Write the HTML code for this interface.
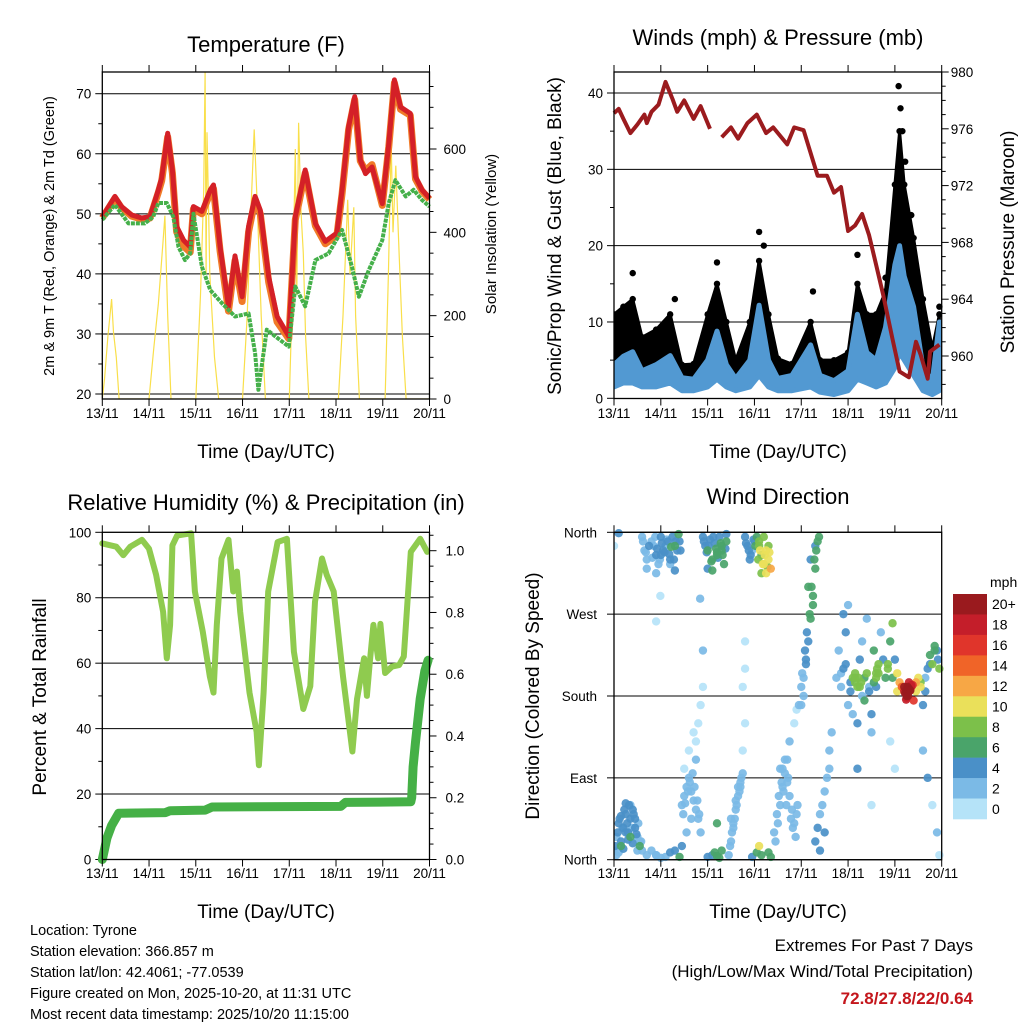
<!DOCTYPE html>
<html><head><meta charset="utf-8"><style>
html,body{margin:0;padding:0;background:#fff;}
svg{display:block;font-family:"Liberation Sans",Arial,sans-serif;}
</style></head><body>
<svg id="chart" width="1024" height="1024" viewBox="0 0 1024 1024" xmlns="http://www.w3.org/2000/svg"></svg>
<script>
// ---------- Data ----------
const DAY_LABELS=["13/11","14/11","15/11","16/11","17/11","18/11","19/11","20/11"];
const T_TICKS=[20,30,40,50,60,70];
const SOL_TICKS=[0,200,400,600];
const W_TICKS=[0,10,20,30,40];
const P_TICKS=[960,964,968,972,976,980];
const RH_TICKS=[0,20,40,60,80,100];
const PR_TICKS=["0.0","0.2","0.4","0.6","0.8","1.0"];
const DIR_TICKS=["North","East","South","West","North"];
const CB_LABELS=["20+","18","16","14","12","10","8","6","4","2","0"];
const CB_COLORS=["#9a1a1e","#c41e2a","#e0352b","#f06428","#f7a745","#eae05a","#7cc04a","#4aa46a","#4a90c8","#7bbae6","#b5e3f8"];

const T_TIME=[0,0.27,0.41,0.63,0.84,1.02,1.2,1.27,1.4,1.5,1.59,1.74,1.88,1.95,2.13,2.31,2.38,2.52,2.7,2.84,2.99,3.13,3.27,3.38,3.56,3.74,3.99,4.13,4.34,4.56,4.77,5.02,5.13,5.27,5.4,5.52,5.63,5.77,5.99,6.13,6.25,6.38,6.59,6.7,6.84,7.0];
const T_RED=[49.5,52.9,51.2,49.8,49.3,49.5,54,56,63.4,57.3,47.9,45.6,44.5,51.2,50.4,54,54.8,44.5,34.6,43,36.2,47.9,52.9,50.6,39.5,32.9,29.6,49.5,57.3,48.4,45.4,46.8,54,64.5,69.5,59,56.7,57.8,51.7,61.7,72.3,67.8,66.7,56.2,54,52.6];
const T_ORANGE=[49.3,52.6,51,49.6,49.1,49.3,53.6,55.5,62.8,56.8,47,44.6,43.6,50.8,50,53.5,54.2,43.8,33.8,42.2,35.4,47,52.4,50,38.6,32,29.2,49,56.8,48,45,46.4,53.4,64,69,58.8,57.2,58.2,51.4,61.2,71.8,67.4,66.4,55.8,53.8,52.4];
const TD_TIME=[0,0.27,0.56,0.91,1.09,1.2,1.38,1.52,1.63,1.77,1.88,1.95,2.13,2.31,2.56,2.84,3.13,3.27,3.34,3.52,3.7,3.99,4.13,4.34,4.56,4.84,5.13,5.34,5.49,5.7,5.99,6.13,6.27,6.49,6.66,6.84,7.0];
const TD_VAL=[49,51.5,48.4,48.4,49.5,51.8,51.8,49.5,44.5,42.3,43.4,50,41.2,37.3,35.1,32.9,33.4,26.8,20.7,30.7,29.6,27.9,37.9,34.6,42.3,43.4,47.3,41.2,36.2,40.6,45.6,51.8,55.6,52.9,54,52.3,51.2];
const SOL_TIME=[0,0.05,0.12,0.2,0.24,0.3,0.36,1.0,1.1,1.2,1.3,1.34,1.4,1.47,2.0,2.1,2.17,2.2,2.22,2.24,2.27,2.3,2.4,2.49,3.0,3.1,3.18,3.25,3.32,3.4,3.49,4.0,4.08,4.13,4.16,4.2,4.25,4.3,4.35,4.42,5.05,5.15,5.25,5.3,5.38,5.42,5.5,6.05,6.12,6.18,6.22,6.28,6.35,6.42,6.5,7.0];
const SOL_VAL=[0,50,150,240,160,100,0,0,120,230,380,440,200,0,0,250,500,787,300,640,480,300,100,0,0,200,450,647,450,200,0,0,300,600,250,663,450,350,150,0,0,200,478,300,460,200,0,0,300,615,400,560,350,150,0,0];

const P_TIME=[0,0.1,0.2,0.35,0.5,0.65,0.7,0.8,0.95,1.1,1.25,1.35,1.5,1.7,1.85,2.05];
const P_VAL=[977.1,977.4,976.7,975.7,976.3,977,976.4,977.2,977.7,979.3,978.1,977.2,978,976.7,977.6,976];
const P2_TIME=[2.3,2.5,2.65,2.85,3.05,3.25,3.4,3.7,3.85,4.05,4.35,4.55,4.7,4.85,5.0,5.15,5.3,5.45,5.6,5.75,5.95,6.1,6.3,6.45,6.55,6.7,6.75,6.95];
const P2_VAL=[975.4,976.1,975.3,976.4,977,975.7,976.1,974.9,976.1,975.9,972.7,972.7,971.5,971.9,968.8,969.2,970,968.5,966.4,964.3,961.2,958.9,958.5,961,960.1,958.4,960.3,960.8];
const W_TIME=[0,0.2,0.4,0.6,0.9,1.2,1.45,1.7,2.0,2.2,2.4,2.6,2.9,3.1,3.3,3.5,3.8,4.2,4.4,4.7,5.0,5.2,5.4,5.6,5.8,6.0,6.1,6.2,6.4,6.6,6.8,6.95];
const W_HIGH=[4.4,5.5,6.1,3.6,4.4,5.6,2.7,2.5,5,8.8,4.4,2.6,5,12.2,5,2.6,3,7,3,2.3,3.6,11,6,5,9.3,17.5,20,16,12,4,2.3,10];
const W_LOW=[1.5,2,2,1.5,1.5,2,1,1,1.5,2.5,1.5,1,1.5,3,1.5,1,1,1.5,0.8,0.5,1,2.5,2,1.5,2,4,6,5,3,1,0.5,1];
const GUST=[11,12,13,8,9,11,4.4,4.5,11,15,10,5,10,18,11,5.2,4.5,10,5,5,6,15,11,11,14,28,35,28,21,13,6.5,11];
const GUST_PEAK_T=[0.4,1.3,2.2,3.1,3.2,4.25,5.2,5.8,6.08,6.12,6.16,6.22,6.35,6.95];
const GUST_PEAK_V=[16.4,13,17.8,21.8,20,14,18.8,15.8,40.9,38,35,31,24,12];

const RH_TIME=[0,0.3,0.45,0.6,0.85,1.0,1.15,1.3,1.38,1.45,1.5,1.6,1.9,1.98,2.15,2.3,2.38,2.45,2.55,2.7,2.8,2.88,2.95,3.15,3.3,3.35,3.45,3.55,3.75,3.95,4.1,4.3,4.45,4.55,4.7,4.8,4.95,5.15,5.35,5.45,5.6,5.66,5.72,5.8,5.9,5.95,6.05,6.2,6.35,6.45,6.6,6.8,6.95];
const RH_VAL=[96.6,95.6,93,95.6,97.7,95,87,75.7,61.5,71.7,96,99,99.7,81.9,69.6,56,51,71.7,92,97.7,81.9,88,75.7,51,39,28.8,51,81.9,97,98,63.5,46,53,78.8,92,87,81.9,56,33,49,61.5,50,60,71.7,61.5,72,57,59,59.4,62,94,98,94];
const PR_TIME=[0,0.1,0.2,0.35,1.35,1.45,2.2,2.35,5.1,5.2,6.6,6.62,6.65,6.7,6.8,6.9,6.97];
const PR_VAL=[0,0.07,0.11,0.15,0.152,0.158,0.16,0.17,0.172,0.185,0.187,0.2,0.3,0.38,0.52,0.61,0.645];

const DIR_T=[0,0.05,0.1,0.15,0.2,0.25,0.3,0.35,0.4,0.45,0.5,0.55,0.6,0.7,0.8,0.9,0.05,0.15,0.25,0.35,0.45,0.55,0,0.1,
0.6,0.65,0.7,0.8,0.85,0.9,0.95,1.0,1.05,1.1,1.15,1.2,1.25,1.3,1.35,1.4,0.7,0.9,1.0,1.2,1.3,0.99,0.9,
0.9,1.0,1.1,1.2,1.3,1.4,1.45,
1.45,1.5,1.55,1.6,1.65,1.7,1.75,1.8,1.85,1.5,1.6,1.7,1.8,1.75,1.85,1.9,1.9,1.84,
1.9,1.95,2.0,2.05,2.1,2.15,2.2,2.25,2.3,2.35,2.4,2.0,2.1,2.2,2.3,2.4,
2.0,2.1,2.15,2.2,2.25,2.3,2.2,
2.45,2.5,2.55,2.6,2.65,2.7,2.75,2.5,2.6,2.7,2.75,2.8,2.75,2.8,2.8,
2.8,2.85,2.9,2.95,3.0,3.05,3.1,3.15,3.2,3.25,3.3,3.35,3.1,3.2,3.3,3.25,3.15,
2.95,3.05,3.1,3.15,3.3,3.35,
3.45,3.5,3.55,3.6,3.65,3.7,3.75,3.8,3.85,3.9,3.55,3.65,3.75,3.85,3.95,3.9,
4.0,4.05,4.1,4.15,4.2,4.25,4.3,4.35,4.15,4.2,4.25,4.3,4.1,4.05,4.0,
4.3,4.35,4.4,4.45,4.5,4.55,4.6,4.4,4.5,4.6,4.65,
4.75,4.8,4.85,4.9,4.95,5.0,5.05,5.1,5.15,5.2,5.25,5.3,5.35,5.4,5.45,5.5,5.55,5.6,5.65,5.7,4.9,5.0,5.1,5.2,5.3,5.4,5.5,5.6,
5.8,5.85,5.9,5.95,6.0,6.05,6.1,6.15,6.2,6.25,6.3,6.35,6.4,6.45,6.5,6.55,6.6,6.65,6.7,6.75,6.8,6.85,6.9,6.95,6.22,6.27,6.32,6.25,6.3,
5.9,6.0,6.6,6.7,6.8,6.9,6.95,5.5,5.2,
0.02,0.08,0.12,0.18,0.22,0.28,0.32,0.38,0.42,0.48,0.52,0.58,0.1,0.2,0.3,0.4,0.5,0.15,0.25,0.35,
0.62,0.68,0.75,0.82,0.88,0.92,0.98,1.02,1.08,1.12,1.18,1.22,1.28,1.32,1.38,1.42,
1.48,1.52,1.58,1.62,1.68,1.72,1.78,1.82,1.55,1.65,1.75,
1.92,1.98,2.02,2.08,2.12,2.18,2.22,2.28,2.32,2.38,
2.48,2.52,2.58,2.62,2.68,2.72,2.55,2.65,
2.82,2.88,2.92,2.98,3.02,3.08,3.12,3.18,3.22,3.28,3.32,
3.42,3.48,3.52,3.58,3.62,3.68,3.72,3.78,3.82,3.88,3.92,3.6,3.7,
4.02,4.08,4.12,4.18,4.22,4.28,4.32,4.38,
4.85,4.95,5.05,5.15,5.25,5.35,5.45,5.55,5.65,5.75,5.85,5.95,6.05,6.15,6.25,6.35,6.45,6.55,6.65,6.75,6.85,6.92,5.15,5.22,5.28,5.6,5.62,6.28,6.33,6.38,6.2,6.24];
const DIR_V=[10,25,40,20,35,50,30,45,55,35,25,15,10,5,10,5,5,15,30,60,45,20,345,359,
355,340,330,350,345,335,325,355,340,345,350,330,355,345,340,350,320,315,335,325,318,290,262,
5,2,3,8,10,3,15,
60,70,80,90,75,65,55,45,30,100,120,140,150,130,170,190,230,287,
355,345,340,352,330,348,335,355,340,325,350,320,318,338,345,358,
3,5,8,4,2,10,40,
5,20,35,55,70,85,95,45,65,80,120,150,190,210,240,
355,345,330,340,350,355,345,335,325,340,330,320,350,355,345,315,315,
3,8,15,5,8,3,
20,40,60,80,95,85,70,55,40,50,100,110,130,150,170,165,
190,200,215,240,265,290,320,350,300,330,280,345,220,180,170,
20,35,50,60,75,90,100,10,30,120,140,
200,230,190,210,250,170,185,200,195,190,220,180,175,205,190,160,230,200,215,250,270,280,160,150,240,265,140,190,
200,215,240,260,220,205,195,190,185,180,188,192,175,185,200,195,170,200,210,225,215,235,230,210,183,190,186,178,195,
130,100,120,90,60,30,5,60,100,
15,30,45,35,55,40,60,35,50,28,40,20,8,12,22,18,10,48,62,25,
350,338,345,332,355,342,330,348,338,352,336,344,330,350,358,340,
50,62,75,85,95,80,65,50,30,45,110,
350,338,345,328,355,342,332,348,335,342,
15,30,45,60,75,90,40,80,
348,340,335,352,345,330,340,325,335,322,338,
30,50,70,85,75,60,90,45,35,25,60,100,110,
205,230,250,270,300,330,340,355,
205,215,195,200,190,200,185,195,205,220,210,200,185,190,185,190,195,190,185,215,230,220,205,200,195,205,210,180,186,192,190,176];
const DIR_S=[3,3,5,5,4,5,5,4,5,4,3,6,3,2,2,2,2,6,5,3,5,3,1,4,
2,2,2,3,2,4,2,4,4,3,4,5,4,6,5,4,2,2,4,2,5,1,1,
2,2,2,4,4,6,5,
2,2,2,2,2,2,2,2,2,1,1,1,1,1,1,1,2,2,
4,4,6,4,7,4,6,4,7,6,7,4,6,7,6,4,
4,4,6,6,6,6,7,
2,2,2,2,2,2,2,2,2,2,1,1,1,1,1,
4,4,4,3,4,6,8,7,10,10,10,12,8,9,8,10,9,
4,7,10,7,7,6,
2,2,2,2,2,2,2,2,2,2,2,2,2,1,2,1,
3,2,4,4,6,7,6,6,6,4,7,5,4,2,2,
4,4,2,2,2,2,2,4,4,2,2,
2,2,2,4,4,2,4,8,8,8,4,2,6,8,2,4,6,8,8,2,4,2,2,4,2,2,2,4,
6,8,6,8,4,10,12,14,18,20,20,18,16,10,10,8,4,2,4,6,8,6,4,8,20,20,20,16,18,
1,1,2,4,1,2,1,1,4,
4,4,4,2,4,4,4,2,4,4,2,2,2,4,4,4,2,4,4,6,
2,2,4,2,2,4,2,4,4,2,4,6,4,4,6,4,
2,2,2,2,2,2,2,2,2,2,2,
4,4,4,6,4,6,4,6,6,4,
2,2,2,2,2,2,2,2,
4,4,4,4,6,8,10,10,10,8,10,
2,2,2,2,2,2,2,2,2,2,2,2,2,
2,4,4,6,6,6,6,6,
2,4,4,8,8,6,4,6,8,4,8,6,10,14,20,18,12,10,4,4,6,4,8,8,8,8,8,20,20,16,20,18];

// ---------- Helpers ----------
const NS="http://www.w3.org/2000/svg";
const svg=document.getElementById('chart');
function mk(tag,attrs,parent){const e=document.createElementNS(NS,tag);for(const k in attrs)e.setAttribute(k,attrs[k]);(parent||svg).appendChild(e);return e;}
function txt(s,x,y,size,anchor,parent,extra){const e=mk('text',Object.assign({x:x,y:y,'font-size':size,'text-anchor':anchor||'middle',fill:'#000'},extra||{}),parent);e.textContent=s;return e;}
function lin(d0,v0,d1,v1){return v=>v0+(v-d0)*(v1-v0)/(d1-d0);}
function grp(name){const g=mk('g',{});return g;}
function frame(g,x0,y0,x1,y1){
  const r=mk('rect',{x:x0,y:y0,width:x1-x0,height:y1-y0,fill:'none',stroke:'#000','stroke-width':1.3},g);
  
}
function xAxis(g,X,y0,y1,labelY){
  for(let i=0;i<=7;i++){
    const x=X(i);
    mk('line',{x1:x,y1:y1,x2:x,y2:y1+7,stroke:'#000','stroke-width':1},g);
    mk('line',{x1:x,y1:y0,x2:x,y2:y0-7,stroke:'#000','stroke-width':1},g);
    const t=txt(DAY_LABELS[i],x,labelY,13.5,'middle',g);
    
  }
}
function hgrid(g,x0,x1,y){mk('line',{x1:x0,y1:y,x2:x1,y2:y,stroke:'#000','stroke-width':1},g);}
function pathD(xs,ys){return xs.map((x,i)=>(i?'L':'M')+x.toFixed(1)+','+ys[i].toFixed(1)).join('');}

// ---------- Panel 1: Temperature ----------
(function(){
  const g=grp('temperature-panel');
  const X=lin(0,102.3,7,429.5), Y=lin(20,394,70,93.7), YS=lin(0,399,600,149);
  const px0=102.3,px1=429.5,py0=72,py1=399;
  T_TICKS.forEach(v=>{hgrid(g,px0,px1,Y(v));mk('line',{x1:px0,y1:Y(v),x2:px0-7,y2:Y(v),stroke:'#000'},g);
    const t=txt(String(v),px0-11,Y(v)+5,13.5,'end',g);
    if(v<70)mk('line',{x1:px0,y1:Y(v+5),x2:px0-4,y2:Y(v+5),stroke:'#000'},g);});
  SOL_TICKS.forEach(v=>{mk('line',{x1:px1,y1:YS(v),x2:px1+7,y2:YS(v),stroke:'#000'},g);
    const t=txt(String(v),px1+14,YS(v)+5,13.5,'start',g);});
  for(let v=50;v<800;v+=50){if(v%200&&YS(v)>py0)mk('line',{x1:px1,y1:YS(v),x2:px1+4,y2:YS(v),stroke:'#000'},g);}
  const clip=mk('clipPath',{id:'c1'},g);mk('rect',{x:px0,y:py0,width:px1-px0,height:py1-py0},clip);
  const s=mk('path',{d:pathD(SOL_TIME.map(X),SOL_VAL.map(YS)),fill:'none',stroke:'#f9df4a','stroke-width':1.2,'clip-path':'url(#c1)'},g);
  
  const o=mk('path',{d:pathD(T_TIME.map(X),T_ORANGE.map(Y)),fill:'none',stroke:'#f07a28','stroke-width':7,'stroke-linejoin':'round'},g);
  
  const r=mk('path',{d:pathD(T_TIME.map(X),T_RED.map(Y)),fill:'none',stroke:'#d42027','stroke-width':5,'stroke-linejoin':'round'},g);
  
  const d=mk('path',{d:pathD(TD_TIME.map(X),TD_VAL.map(Y)),fill:'none',stroke:'#45b04a','stroke-width':4,'stroke-dasharray':'4 1','stroke-linejoin':'round'},g);
  
  frame(g,px0,py0,px1,py1);xAxis(g,X,py0,py1,418);
  const t1=txt('Temperature (F)',266,52,22,'middle',g);
  const t2=txt('Time (Day/UTC)',266,458,19,'middle',g);
  const t3=txt('2m & 9m T (Red, Orange) & 2m Td (Green)',0,0,14.5,'middle',g,{transform:'translate(54,236) rotate(-90)'});
  const t4=txt('Solar Insolation (Yellow)',0,0,15,'middle',g,{transform:'translate(496,234) rotate(-90)'});
})();

// ---------- Panel 2: Winds & Pressure ----------
(function(){
  const g=grp('winds-pressure-panel');
  const px0=614,px1=941.7,py0=72,py1=398.5;
  const X=lin(0,px0,7,px1), Y=lin(0,398.3,40,93), YP=lin(960,356,980,72);
  W_TICKS.forEach(v=>{if(v>0)hgrid(g,px0,px1,Y(v));mk('line',{x1:px0,y1:Y(v),x2:px0-7,y2:Y(v),stroke:'#000'},g);
    const t=txt(String(v),px0-11,Y(v)+5,13.5,'end',g);
    if(v<40)mk('line',{x1:px0,y1:Y(v+5),x2:px0-4,y2:Y(v+5),stroke:'#000'},g);});
  P_TICKS.forEach(v=>{mk('line',{x1:px1,y1:YP(v),x2:px1+7,y2:YP(v),stroke:'#000'},g);
    const t=txt(String(v),px1+9,YP(v)+5,13.5,'start',g);});
  for(let v=958;v<980;v+=1){if((v-960)%4)mk('line',{x1:px1,y1:YP(v),x2:px1+4,y2:YP(v),stroke:'#000'},g);}
  const clip=mk('clipPath',{id:'c2'},g);mk('rect',{x:px0,y:py0,width:px1-px0,height:py1-py0},clip);
  const gx=W_TIME.map(X);
  const band=pathD(gx,GUST.map(Y))+pathD(gx.slice().reverse(),W_HIGH.slice().reverse().map(Y)).replace('M','L')+'Z';
  const gb=mk('path',{d:band,fill:'#000',stroke:'#000','stroke-width':3,'stroke-linejoin':'round','clip-path':'url(#c2)'},g);
  
  GUST.forEach((v,i)=>{const c=mk('circle',{cx:X(W_TIME[i]),cy:Y(v),r:3.2,fill:'#000','clip-path':'url(#c2)'},g);
    });
  GUST_PEAK_V.forEach((v,i)=>{const c=mk('circle',{cx:X(GUST_PEAK_T[i]),cy:Y(v),r:3.2,fill:'#000'},g);
    });
  const wb=pathD(gx,W_HIGH.map(Y))+pathD(gx.slice().reverse(),W_LOW.slice().reverse().map(Y)).replace('M','L')+'Z';
  const w=mk('path',{d:wb,fill:'#5299d2',stroke:'#5299d2','stroke-width':5,'stroke-linejoin':'round','clip-path':'url(#c2)'},g);
  
  const p1=mk('path',{d:pathD(P_TIME.map(X),P_VAL.map(YP)),fill:'none',stroke:'#9b1b1e','stroke-width':4,'stroke-linejoin':'round'},g);
  
  const p2=mk('path',{d:pathD(P2_TIME.map(X),P2_VAL.map(YP)),fill:'none',stroke:'#9b1b1e','stroke-width':4,'stroke-linejoin':'round'},g);
  
  frame(g,px0,py0,px1,py1);xAxis(g,X,py0,py1,418);
  const t1=txt('Winds (mph) & Pressure (mb)',778,45,22,'middle',g);
  const t2=txt('Time (Day/UTC)',778,458,19,'middle',g);
  const t3=txt('Sonic/Prop Wind & Gust (Blue, Black)',0,0,19,'middle',g,{transform:'translate(561,236) rotate(-90)'});
  const t4=txt('Station Pressure (Maroon)',0,0,19,'middle',g,{transform:'translate(1014,242) rotate(-90)'});
})();

// ---------- Panel 3: RH & Precip ----------
(function(){
  const g=grp('humidity-precip-panel');
  const px0=102.3,px1=429.5,py0=532.3,py1=859.5;
  const X=lin(0,px0,7,px1), Y=lin(0,859.5,100,532.3), YP=lin(0,859.5,1,550.7);
  RH_TICKS.forEach(v=>{if(v>0&&v<100)hgrid(g,px0,px1,Y(v));mk('line',{x1:px0,y1:Y(v),x2:px0-7,y2:Y(v),stroke:'#000'},g);
    const t=txt(String(v),px0-11,Y(v)+5,13.5,'end',g);
    if(v<100)mk('line',{x1:px0,y1:Y(v+10),x2:px0-4,y2:Y(v+10),stroke:'#000'},g);});
  PR_TICKS.forEach((s,i)=>{const v=i*0.2;mk('line',{x1:px1,y1:YP(v),x2:px1+7,y2:YP(v),stroke:'#000'},g);
    const t=txt(s,px1+16,YP(v)+5,13.5,'start',g);});
  for(let v=0.05;v<1.06;v+=0.05){if(Math.abs(v*5-Math.round(v*5))>0.01)mk('line',{x1:px1,y1:YP(v),x2:px1+4,y2:YP(v),stroke:'#000'},g);}
  const rh=mk('path',{d:pathD(RH_TIME.map(X),RH_VAL.map(Y)),fill:'none',stroke:'#8fcb4f','stroke-width':6,'stroke-linejoin':'round','stroke-linecap':'round'},g);
  
  const pr=mk('path',{d:pathD(PR_TIME.map(X),PR_VAL.map(YP)),fill:'none',stroke:'#45b046','stroke-width':9,'stroke-linejoin':'round','stroke-linecap':'round'},g);
  
  frame(g,px0,py0,px1,py1);xAxis(g,X,py0,py1,878);
  const t1=txt('Relative Humidity (%) & Precipitation (in)',266,510,22,'middle',g);
  const t2=txt('Time (Day/UTC)',266,918,19,'middle',g);
  const t3=txt('Percent & Total Rainfall',0,0,19,'middle',g,{transform:'translate(46,697) rotate(-90)'});
})();

// ---------- Panel 4: Wind Direction ----------
(function(){
  const g=grp('wind-direction-panel');
  const px0=614,px1=941.7,py0=532.3,py1=859.7;
  const X=lin(0,px0,7,px1), Y=lin(0,859.7,360,532.3);
  DIR_TICKS.forEach((s,i)=>{const v=i*90;hgrid(g,px0,px1,Y(v));mk('line',{x1:px0,y1:Y(v),x2:px0-7,y2:Y(v),stroke:'#000'},g);
    const t=txt(s,px0-17,Y(v)+5,13.5,'end',g);});
  const clip=mk('clipPath',{id:'c4'},g);mk('rect',{x:px0,y:py0-4,width:px1-px0+4,height:py1-py0+8},clip);
  const order=DIR_S.map((s,i)=>i).sort((a,b)=>DIR_S[a]-DIR_S[b]);
  order.forEach(i=>{const ci=Math.min(10,Math.floor(DIR_S[i]/2));
    const c=mk('circle',{cx:X(DIR_T[i]),cy:Y(DIR_V[i]),r:4.2,fill:CB_COLORS[10-ci],'fill-opacity':0.92,'clip-path':'url(#c4)'},g);
    });
  frame(g,px0,py0,px1,py1);xAxis(g,X,py0,py1,878);
  const cb=mk('g',{},g);
  const h=225/11;
  CB_COLORS.forEach((c,i)=>{mk('rect',{x:953,y:594+i*h,width:34,height:h+0.3,fill:c},cb);
    const t=txt(CB_LABELS[i],992,594+i*h+h/2+5,14,'start',cb);});
  const mu=txt('mph',990,587,14,'start',cb);
  const t1=txt('Wind Direction',778,504,22,'middle',g);
  const t2=txt('Time (Day/UTC)',778,918,19,'middle',g);
  const t3=txt('Direction (Colored By Speed)',0,0,19,'middle',g,{transform:'translate(539,696) rotate(-90)'});
})();

// ---------- Footer text ----------
(function(){
  const g=grp('station-info');
  const lines=["Location: Tyrone","Station elevation: 366.857 m","Station lat/lon: 42.4061; -77.0539","Figure created on Mon, 2025-10-20, at 11:31 UTC","Most recent data timestamp: 2025/10/20 11:15:00"];
  lines.forEach((s,i)=>{const t=txt(s,30,935+i*21,14.5,'start',g);});
  const g2=grp('extremes-summary');
  const a=txt('Extremes For Past 7 Days',973,951,17,'end',g2);
  const b=txt('(High/Low/Max Wind/Total Precipitation)',973,977,17,'end',g2);
  const c=txt('72.8/27.8/22/0.64',973,1004,17,'end',g2,{fill:'#c4161c','font-weight':'bold'});
})();
</script>
</body></html>
